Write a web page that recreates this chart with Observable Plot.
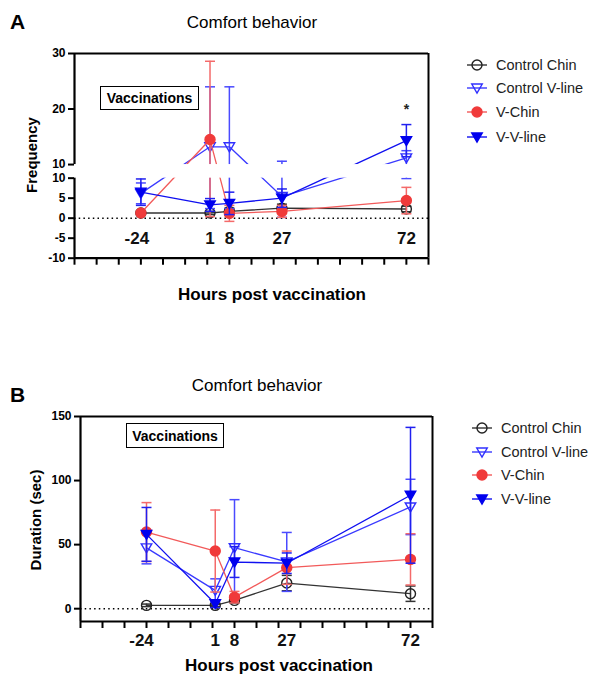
<!DOCTYPE html>
<html><head><meta charset="utf-8">
<script src="https://cdn.jsdelivr.net/npm/d3@7"></script>
<script src="https://cdn.jsdelivr.net/npm/@observablehq/plot@0.6"></script>
<style>
body{margin:0;background:#fff;font-family:"Liberation Sans",Arial,sans-serif;color:#000;}
#page{position:relative;width:590px;height:675px;overflow:hidden;background:#fff;}
.abs{position:absolute;white-space:nowrap;}
.letter{font-weight:bold;font-size:21px;transform:translate(0,-50%);}
.title{font-size:17px;transform:translate(-50%,-50%);color:#000;}
.vacc{border:1.5px solid #000;font-weight:bold;font-size:14px;box-sizing:border-box;display:flex;align-items:center;justify-content:center;background:#fff;}
.ytitle{font-weight:bold;font-size:15px;transform:translate(-50%,-50%) rotate(-90deg);}
.xtitle{font-weight:bold;font-size:17px;transform:translate(-50%,-50%);}
.leg{position:absolute;font-size:14.5px;color:#222;display:flex;align-items:center;white-space:nowrap;transform:translate(0,-50%);}
.leg svg{margin-right:8px;}
</style></head>
<body><div id="page"></div>
<script>
// ---------- data ----------
const hours = [-24, 1, 8, 27, 72];
const hourLabels = ["-24", "1", "8", "27", "72"];
const seriesNames = ["Control Chin", "Control V-line", "V-Chin", "V-V-line"];
const xTicks = d3.range(-48, 81, 8);

// Panel A: frequency (mean, error)
const freqCtrlChin = [1.3, 1.3, 1.7, 2.5, 2.3];
const freqCtrlChinErr = [0.4, 0.4, 0.8, 1.0, 0.7];
const freqCtrlVline = [6.2, 13.2, 13.2, 5.4, 11.2];
const freqCtrlVlineErr = [2.6, 10.8, 10.8, 5.2, 1.3];
const freqVChin = [1.3, 14.5, 1.2, 1.7, 4.4];
const freqVChinErr = [0.4, 14.1, 2.0, 1.5, 3.3];
const freqVVline = [6.5, 3.3, 3.7, 5.0, 14.3];
const freqVVlineErr = [3.3, 1.6, 2.8, 2.3, 2.9];
const freqTicksLower = [-10, -5, 0, 5, 10];
const freqTicksUpper = [10, 20, 30];
const freqStar = [{hour: 72, value: 20, label: "*"}];

// Panel B: duration (mean, error)
const durCtrlChin = [2.6, 2.6, 6.5, 20, 11.7];
const durCtrlChinErr = [1, 1, 2, 6, 6];
const durCtrlVline = [47.5, 14.3, 47.6, 36.5, 79.4];
const durCtrlVlineErr = [12.5, 9, 37.5, 23, 21.6];
const durVChin = [59.8, 45, 9, 32, 38.5];
const durVChinErr = [23, 32, 4.5, 13, 20];
const durVVline = [58, 3.9, 36.4, 35.5, 88.5];
const durVVlineErr = [21, 3, 12, 8, 53];
const durTicks = [0, 50, 100, 150];

// ---------- broken y axis for panel A (lower segment -10..10, upper 10..30) ----------
const BREAK = 10, GAP = 3.4, UPPER_K = 1.3875;
const toUpper = v => BREAK + GAP + (v - BREAK) * UPPER_K;
const brk = v => v <= BREAK ? v : toUpper(v);
const unbrk = d => d <= BREAK ? d : BREAK + (d - BREAK - GAP) / UPPER_K;

// ---------- helpers ----------
const rows = (means, errs, name, f = v => v) => hours.map((h, i) => ({hour: h, series: name, mean: f(means[i]), lo: f(means[i] - errs[i]), hi: f(means[i] + errs[i])}));
const capSym = {draw(ctx, size) { const w = Math.sqrt(size / Math.PI); ctx.moveTo(-w, 0); ctx.lineTo(w, 0); }};
const triDown = {draw(ctx, size) { const r = Math.sqrt(size / Math.PI); ctx.moveTo(-r * 1.05, -r * 0.8); ctx.lineTo(r * 1.05, -r * 0.8); ctx.lineTo(0, r * 1.0); ctx.closePath(); }};
const styles = {
  "Control Chin": {line: "#333", err: "#333", stroke: "#222", fill: "none", symbol: "circle"},
  "Control V-line": {line: "#3a3aff", err: "#4a4aff", stroke: "#3030ff", fill: "none", symbol: triDown},
  "V-Chin": {line: "#f25a5a", err: "#f46a6a", stroke: "#f03a3a", fill: "#f03a3a", symbol: "circle"},
  "V-V-line": {line: "#1010f0", err: "#2020f0", stroke: "#0000ee", fill: "#0000ee", symbol: triDown}
};
function seriesMarks(data, name) {
  const s = styles[name];
  return [
    Plot.ruleX(data, {x: "hour", y1: "lo", y2: "hi", stroke: s.err, strokeWidth: 1.5}),
    Plot.dot(data, {x: "hour", y: "hi", symbol: capSym, r: 5, stroke: s.err, fill: "none", strokeWidth: 1.5}),
    Plot.dot(data, {x: "hour", y: "lo", symbol: capSym, r: 5, stroke: s.err, fill: "none", strokeWidth: 1.5}),
    Plot.line(data, {x: "hour", y: "mean", stroke: s.line, strokeWidth: 1.3}),
    Plot.dot(data, {x: "hour", y: "mean", symbol: s.symbol, r: 5, stroke: s.stroke, fill: s.fill, strokeWidth: 1.4})
  ];
}
const fmt = d => String(Math.round(d));
const font = "'Liberation Sans', Arial, sans-serif";
const page = document.getElementById("page");
function place(el, x, y) { el.style.left = x + "px"; el.style.top = y + "px"; page.appendChild(el); return el; }
function div(cls, text, x, y) { const d = document.createElement("div"); d.className = "abs " + cls; d.textContent = text; return place(d, x, y); }

// ---------- Panel A ----------
const dataA = [
  rows(freqCtrlChin, freqCtrlChinErr, seriesNames[0], brk),
  rows(freqCtrlVline, freqCtrlVlineErr, seriesNames[1], brk),
  rows(freqVChin, freqVChinErr, seriesNames[2], brk),
  rows(freqVVline, freqVVlineErr, seriesNames[3], brk)
];
const labA = hours.map((h, i) => ({hour: h, label: hourLabels[i]}));
const yTicksA = [...freqTicksLower, ...freqTicksUpper.map(toUpper)];
const plotA = Plot.plot({
  width: 440, height: 310, marginTop: 53, marginBottom: 52.3, marginLeft: 74, marginRight: 12,
  style: {fontFamily: font, fontSize: "12px", background: "transparent", color: "#000", overflow: "visible"},
  x: {domain: [-48, 80], label: null},
  y: {domain: [-10, toUpper(30)], label: null},
  marks: [
    Plot.ruleY([0], {x1: -48, x2: 80, stroke: "#000", strokeWidth: 1.5, strokeDasharray: "1.5,3.2"}),
    ...dataA.flatMap((d, i) => seriesMarks(d, seriesNames[i])),
    Plot.rect([0], {x1: -48, x2: 80, y1: BREAK, y2: BREAK + GAP, fill: "white"}),
    Plot.ruleY([toUpper(30)], {x1: -48, x2: 80, stroke: "#000", strokeWidth: 2}),
    Plot.ruleY([-10], {x1: -48, x2: 80, stroke: "#000", strokeWidth: 2.2}),
    Plot.ruleX([-48], {y1: -10, y2: BREAK, stroke: "#000", strokeWidth: 2.2}),
    Plot.ruleX([-48], {y1: BREAK + GAP, y2: toUpper(30), stroke: "#000", strokeWidth: 2.2}),
    Plot.ruleX([80], {y1: -10, y2: toUpper(30), stroke: "#000", strokeWidth: 2}),
    Plot.axisY({ticks: yTicksA, tickFormat: d => fmt(unbrk(d)), tickSize: 6, tickPadding: 3, strokeWidth: 2, fontSize: 12, fontWeight: "bold", label: null}),
    Plot.axisX({ticks: xTicks, tickFormat: () => "", tickSize: 7, strokeWidth: 2, label: null}),
    Plot.text(labA.filter(d => d.hour >= 0), {x: "hour", y: -5, text: "label", fontSize: 17, fontWeight: "bold", fill: "#111"}),
    Plot.text(labA.filter(d => d.hour < 0), {x: "hour", y: -5, text: "label", dx: -4, fontSize: 17, fontWeight: "bold", fill: "#111"}),
    Plot.text(freqStar, {x: "hour", y: d => brk(d.value), text: "label", fontSize: 14, fontWeight: "bold", fill: "#222"})
  ]
});
const wrapA = document.createElement("div"); wrapA.className = "abs"; wrapA.appendChild(plotA); place(wrapA, 0, 0);

// ---------- Panel B ----------
const dataB = [
  rows(durCtrlChin, durCtrlChinErr, seriesNames[0]),
  rows(durCtrlVline, durCtrlVlineErr, seriesNames[1]),
  rows(durVChin, durVChinErr, seriesNames[2]),
  rows(durVVline, durVVlineErr, seriesNames[3])
];
const plotB = Plot.plot({
  width: 440, height: 305, marginTop: 46, marginBottom: 54, marginLeft: 80, marginRight: 8,
  style: {fontFamily: font, fontSize: "12px", background: "transparent", color: "#000", overflow: "visible"},
  x: {domain: [-48, 80], label: null},
  y: {domain: [-10, 150], label: null},
  marks: [
    Plot.ruleY([0], {x1: -48, x2: 80, stroke: "#000", strokeWidth: 1.5, strokeDasharray: "1.5,3.2"}),
    ...dataB.flatMap((d, i) => seriesMarks(d, seriesNames[i])),
    Plot.ruleY([150], {x1: -48, x2: 80, stroke: "#000", strokeWidth: 2}),
    Plot.ruleY([-10], {x1: -48, x2: 80, stroke: "#000", strokeWidth: 2.2}),
    Plot.ruleX([-48], {y1: -10, y2: 150, stroke: "#000", strokeWidth: 2.2}),
    Plot.ruleX([80], {y1: -10, y2: 150, stroke: "#000", strokeWidth: 2}),
    Plot.axisY({ticks: durTicks, tickFormat: fmt, tickSize: 6, tickPadding: 3, strokeWidth: 2, fontSize: 12, fontWeight: "bold", label: null}),
    Plot.axisX({ticks: xTicks, tickFormat: () => "", tickSize: 7, strokeWidth: 2, label: null}),
    Plot.text(labA.filter(d => d.hour >= 0), {x: "hour", y: -10, dy: 19, text: "label", fontSize: 17, fontWeight: "bold", fill: "#111"}),
    Plot.text(labA.filter(d => d.hour < 0), {x: "hour", y: -10, dy: 19, dx: -5, text: "label", fontSize: 17, fontWeight: "bold", fill: "#111"})
  ]
});
const wrapB = document.createElement("div"); wrapB.className = "abs"; wrapB.appendChild(plotB); place(wrapB, 0, 370);

// ---------- texts ----------
div("letter", "A", 10, 22);
div("title", "Comfort behavior", 252, 23);
div("ytitle", "Frequency", 31, 155);
div("xtitle", "Hours post vaccination", 272, 295);
const vA = div("vacc", "Vaccinations", 100, 86); vA.style.width = "99px"; vA.style.height = "24px";

div("letter", "B", 10, 395);
div("title", "Comfort behavior", 257, 386);
div("ytitle", "Duration (sec)", 35, 520);
div("xtitle", "Hours post vaccination", 279, 666);
const vB = div("vacc", "Vaccinations", 126, 423); vB.style.width = "98px"; vB.style.height = "25px";

// ---------- legends ----------
function legend(x, ys) {
  seriesNames.forEach((name, i) => {
    const s = styles[name];
    const row = document.createElement("div"); row.className = "leg";
    const svg = d3.create("svg").attr("width", 22).attr("height", 14);
    svg.append("line").attr("x1", 1).attr("x2", 21).attr("y1", 7).attr("y2", 7).attr("stroke", s.line).attr("stroke-width", 1.4);
    const sym = s.symbol === "circle" ? d3.symbolCircle : s.symbol;
    svg.append("path").attr("transform", "translate(11,7)").attr("d", d3.symbol(sym, 25 * Math.PI)())
      .attr("fill", s.fill).attr("stroke", s.stroke).attr("stroke-width", 1.4);
    row.appendChild(svg.node());
    const t = document.createElement("span"); t.textContent = name; row.appendChild(t);
    place(row, x, ys[i]);
  });
}
legend(466, [65, 88, 112, 137]);
legend(471, [428, 452, 475, 499]);
</script>
</body></html>
